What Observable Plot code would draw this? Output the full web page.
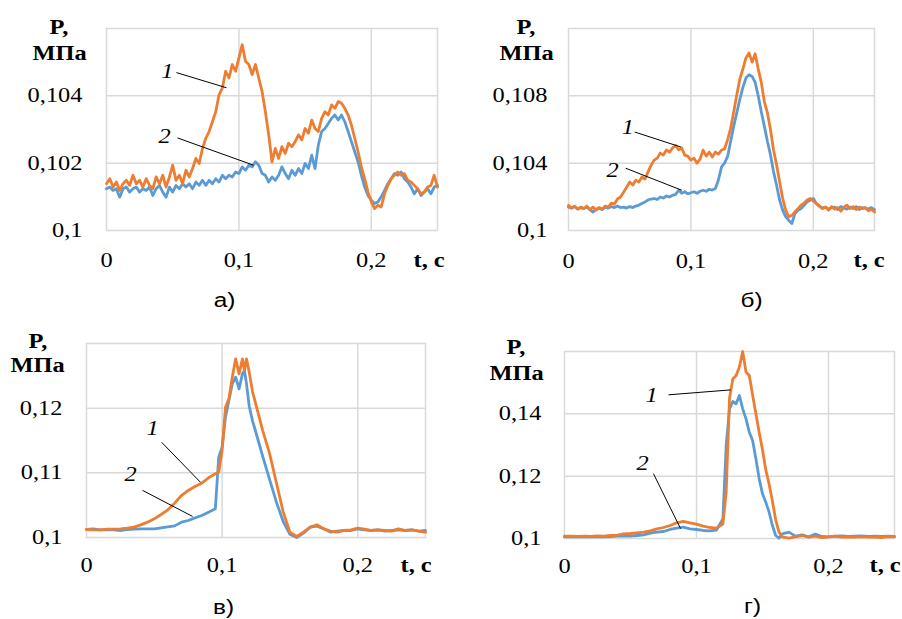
<!DOCTYPE html>
<html>
<head>
<meta charset="utf-8">
<script src="https://cdn.jsdelivr.net/npm/d3@7"></script>
<script src="https://cdn.jsdelivr.net/npm/@observablehq/plot@0.6"></script>
<style>
  html, body { margin: 0; padding: 0; background: #fff; }
  #wrap { position: relative; width: 902px; height: 619px; background: #fff; overflow: hidden; }
  .pan { position: absolute; }
</style>
</head>
<body>
<div id="wrap">
  <div class="pan" id="pa" style="left:0;top:0"></div>
  <div class="pan" id="pb" style="left:451px;top:0"></div>
  <div class="pan" id="pc" style="left:0;top:310px"></div>
  <div class="pan" id="pd" style="left:451px;top:310px"></div>
</div>
<script>
// ---------- data ----------
const xTicks = [0, 0.1, 0.2];

// Panel а)
const tA = [0,0.0025,0.005,0.0075,0.01,0.0125,0.015,0.0175,0.02,0.0225,0.025,0.0275,0.03,0.0325,0.035,0.0375,0.04,0.0425,0.045,0.0475,
            0.05,0.0525,0.055,0.0575,0.06,0.0625,0.065,0.0675,0.07,0.0725,0.075,0.0775,0.08,0.0825,0.085,0.0875,0.09,0.0925,0.095,0.0975,
            0.1,0.1025,0.105,0.1075,0.11,0.1125,0.115,0.1175,0.12,0.1225,0.125,0.1275,0.13,0.1325,0.135,0.1375,0.14,0.1425,0.145,0.1475,
            0.15,0.1525,0.155,0.1575,0.16,0.1625,0.165,0.1675,0.17,0.1725,0.175,0.1775,0.18,0.1825,0.185,0.1875,0.19,0.1925,0.195,0.1975,
            0.2,0.2025,0.205,0.2075,0.21,0.2125,0.215,0.2175,0.22,0.2225,0.225,0.2275,0.23,0.2325,0.235,0.2375,0.24,0.2425,0.245,0.2475,0.25];
const pA1 = [0.10139,0.10154,0.10129,0.10144,0.10119,0.10139,0.10149,0.10134,0.10164,0.10139,0.10149,0.10129,0.10154,0.10134,0.10124,0.10159,0.10139,0.10164,0.10129,0.10159,
             0.10194,0.10149,0.10164,0.10139,0.10179,0.10159,0.10184,0.10214,0.10199,0.10244,0.10274,0.10294,0.10323,0.10353,0.10403,0.10423,0.10473,0.10453,0.10493,0.10473,
             0.10512,0.10552,0.10503,0.10493,0.10463,0.10493,0.10453,0.10413,0.10353,0.10284,0.10204,0.10244,0.10214,0.10249,0.10229,0.10259,0.10249,0.10264,0.10284,0.10269,
             0.10303,0.10289,0.10328,0.10303,0.10294,0.10333,0.10353,0.10343,0.10373,0.10363,0.10383,0.10378,0.10363,0.10343,0.10313,0.10274,0.10234,0.10189,0.10154,0.10114,
             0.10085,0.10065,0.10075,0.10070,0.10109,0.10134,0.10154,0.10164,0.10174,0.10164,0.10169,0.10149,0.10144,0.10134,0.10124,0.10109,0.10114,0.10129,0.10134,0.10164,0.10129];
const pA2 = [0.10124,0.10129,0.10119,0.10124,0.10099,0.10124,0.10129,0.10114,0.10124,0.10129,0.10114,0.10124,0.10119,0.10129,0.10104,0.10124,0.10134,0.10114,0.10099,0.10129,
             0.10114,0.10134,0.10124,0.10139,0.10129,0.10139,0.10124,0.10144,0.10134,0.10149,0.10134,0.10149,0.10139,0.10154,0.10144,0.10164,0.10154,0.10164,0.10159,0.10174,
             0.10169,0.10189,0.10179,0.10194,0.10189,0.10204,0.10194,0.10169,0.10164,0.10144,0.10159,0.10149,0.10164,0.10189,0.10169,0.10154,0.10179,0.10164,0.10184,0.10169,
             0.10199,0.10184,0.10224,0.10184,0.10254,0.10294,0.10303,0.10318,0.10333,0.10343,0.10328,0.10343,0.10323,0.10294,0.10264,0.10234,0.10204,0.10164,0.10129,0.10104,
             0.10090,0.10080,0.10085,0.10100,0.10119,0.10139,0.10154,0.10169,0.10164,0.10174,0.10154,0.10144,0.10129,0.10109,0.10124,0.10104,0.10114,0.10124,0.10109,0.10129,0.10134];
const yTicksA = [0.1, 0.102, 0.104];

// Panel б)
const tB = tA;
const pB1 = [0.10149,0.10133,0.10145,0.10127,0.10139,0.10130,0.10145,0.10124,0.10139,0.10121,0.10136,0.10127,0.10145,0.10139,0.10163,0.10157,0.10187,0.10199,0.10227,0.10257,
             0.10288,0.10270,0.10299,0.10288,0.10318,0.10306,0.10348,0.10388,0.10418,0.10430,0.10460,0.10448,0.10478,0.10466,0.10490,0.10505,0.10480,0.10490,0.10448,0.10442,
             0.10418,0.10430,0.10400,0.10424,0.10478,0.10442,0.10466,0.10436,0.10466,0.10454,0.10478,0.10484,0.10540,0.10607,0.10706,0.10806,0.10900,0.10960,0.11025,0.11055,
             0.11000,0.11050,0.10960,0.10880,0.10766,0.10700,0.10600,0.10480,0.10390,0.10290,0.10190,0.10120,0.10081,0.10090,0.10111,0.10130,0.10151,0.10163,0.10181,0.10190,
             0.10175,0.10160,0.10145,0.10130,0.10139,0.10121,0.10142,0.10127,0.10136,0.10115,0.10139,0.10151,0.10130,0.10142,0.10124,0.10139,0.10130,0.10136,0.10118,0.10127,0.10110];
const pB2 = [0.10139,0.10133,0.10142,0.10127,0.10136,0.10130,0.10139,0.10124,0.10109,0.10127,0.10133,0.10124,0.10139,0.10133,0.10142,0.10136,0.10145,0.10136,0.10139,0.10133,
             0.10142,0.10136,0.10145,0.10151,0.10161,0.10170,0.10181,0.10187,0.10190,0.10184,0.10199,0.10193,0.10205,0.10199,0.10209,0.10215,0.10239,0.10221,0.10230,0.10218,
             0.10224,0.10230,0.10221,0.10233,0.10239,0.10233,0.10245,0.10240,0.10249,0.10300,0.10378,0.10400,0.10440,0.10530,0.10620,0.10700,0.10780,0.10850,0.10907,0.10925,
             0.10915,0.10880,0.10800,0.10705,0.10620,0.10530,0.10450,0.10350,0.10269,0.10180,0.10120,0.10081,0.10060,0.10042,0.10100,0.10120,0.10131,0.10150,0.10170,0.10180,
             0.10190,0.10160,0.10145,0.10133,0.10139,0.10127,0.10136,0.10139,0.10124,0.10142,0.10133,0.10127,0.10139,0.10130,0.10142,0.10124,0.10136,0.10133,0.10127,0.10136,0.10124];
const yTicksB = [0.1, 0.104, 0.108];

// Panel в)
const tC = [0,0.005,0.01,0.015,0.02,0.025,0.03,0.035,0.04,0.045,0.05,0.055,0.06,0.065,0.07,0.075,0.08,0.085,0.09,0.095,
            0.0975,0.1,0.1025,0.105,0.1075,0.11,0.1125,0.115,0.1165,0.118,0.12,0.1225,0.125,
            0.13,0.135,0.14,0.145,0.15,0.155,0.16,0.165,0.17,0.175,0.18,0.185,0.19,0.195,0.2,0.205,0.21,0.215,0.22,0.225,0.23,0.235,0.24,0.245,0.25];
const pC1 = [0.10124,0.10119,0.10119,0.10129,0.10129,0.10134,0.10144,0.10160,0.10196,0.10237,
             0.10289,0.10356,0.10428,0.10531,0.10649,0.10727,0.10789,0.10840,0.10923,0.10985,
             0.11010,0.11345,0.12015,0.12144,0.12479,0.12763,0.12531,0.12763,0.12582,0.12763,0.12557,0.12250,0.12050,
             0.11650,0.11300,0.10850,0.10400,0.10082,0.10015,0.10082,0.10160,0.10196,0.10134,
             0.10098,0.10082,0.10108,0.10119,0.10144,0.10129,0.10108,0.10119,0.10108,0.10098,
             0.10134,0.10108,0.10119,0.10098,0.10082];
const pC2 = [0.10124,0.10134,0.10119,0.10119,0.10119,0.10108,0.10124,0.10129,0.10134,0.10134,
             0.10134,0.10150,0.10165,0.10180,0.10237,0.10263,0.10304,0.10340,0.10392,0.10443,
             0.11242,0.11397,0.11861,0.12119,0.12376,0.12479,0.12299,0.12531,0.12582,0.12376,0.12030,0.11800,0.11620,
             0.11250,0.10900,0.10550,0.10250,0.10050,0.10000,0.10067,0.10160,0.10175,0.10134,
             0.10082,0.10098,0.10108,0.10108,0.10134,0.10119,0.10108,0.10119,0.10098,0.10108,
             0.10119,0.10108,0.10119,0.10098,0.10108];
const yTicksC = [0.1, 0.11, 0.12];

// Panel г)
const tD = [0,0.005,0.01,0.015,0.02,0.025,0.03,0.035,0.04,0.045,0.05,0.055,0.06,0.065,0.07,0.075,0.08,0.085,0.09,0.095,0.1,0.105,0.11,0.115,0.12,
            0.1225,0.125,0.1275,0.13,0.1325,0.135,0.1375,0.14,0.1425,0.145,0.1475,0.15,0.1525,0.155,0.1575,0.16,0.1625,0.165,
            0.17,0.175,0.18,0.185,0.19,0.195,0.2,0.205,0.21,0.215,0.22,0.225,0.23,0.235,0.24,0.245,0.25];
const pD1 = [0.10075,0.10075,0.10064,0.10075,0.10064,0.10086,0.10075,0.10096,0.10107,0.10150,
             0.10160,0.10182,0.10203,0.10246,0.10310,0.10353,0.10417,0.10503,0.10546,0.10503,
             0.10460,0.10396,0.10353,0.10332,0.10460,
             0.11500,0.14500,0.15120,0.15230,0.15500,0.16000,0.15340,0.15230,0.14600,0.14000,0.13400,0.12850,0.12200,0.11750,0.11200,0.10600,0.10200,0.10050,
             0.10011,0.10053,0.10096,0.10043,0.10075,0.10032,0.10053,0.10075,0.10043,0.10053,
             0.10043,0.10064,0.10043,0.10053,0.10032,0.10064,0.10053];
const pD2 = [0.10053,0.10064,0.10053,0.10064,0.10053,0.10064,0.10053,0.10064,0.10075,0.10075,
             0.10075,0.10096,0.10118,0.10171,0.10203,0.10225,0.10289,0.10332,0.10364,0.10310,
             0.10289,0.10257,0.10246,0.10267,0.10631,
             0.12984,0.14160,0.14396,0.14321,0.14588,0.14160,0.13840,0.13412,0.13144,0.12556,0.11914,0.11433,0.11166,0.10845,0.10417,0.10096,0.10011,0.10150,
             0.10203,0.10075,0.10118,0.10053,0.10139,0.10064,0.10053,0.10075,0.10086,0.10064,
             0.10075,0.10086,0.10064,0.10075,0.10064,0.10075,0.10064];
const yTicksD = [0.1, 0.12, 0.14];

// curve labels 1 / 2 with leader lines (data coordinates)
const notesA = [
  {label: "1", lx: 0.046, ly: 0.10472, x1: 0.0528, y1: 0.10469, x2: 0.0906, y2: 0.10424},
  {label: "2", lx: 0.0438, ly: 0.10278, x1: 0.0536, y1: 0.10275, x2: 0.111, y2: 0.10194}
];
const notesB = [
  {label: "1", lx: 0.0484, ly: 0.10609, x1: 0.0541, y1: 0.10585, x2: 0.0918, y2: 0.10496},
  {label: "2", lx: 0.036, ly: 0.10358, x1: 0.0467, y1: 0.1037, x2: 0.0926, y2: 0.10239}
];
const notesC = [
  {label: "1", lx: 0.0487, ly: 0.1169, x1: 0.0554, y1: 0.11473, x2: 0.0841, y2: 0.10853},
  {label: "2", lx: 0.0325, ly: 0.10977, x1: 0.0413, y1: 0.10729, x2: 0.0782, y2: 0.10326}
];
const notesD = [
  {label: "1", lx: 0.0659, ly: 0.14576, x1: 0.0788, y1: 0.1461, x2: 0.1258, y2: 0.14768},
  {label: "2", lx: 0.0591, ly: 0.124, x1: 0.0674, y1: 0.1208, x2: 0.0879, y2: 0.1032}
];

// ---------- drawing ----------
const ORANGE = "#ED7D31", BLUE = "#5B9BD5", GRID = "#d9d9d9";
const SERIF = "Liberation Serif";
const SANS = "Liberation Sans";
const fmt = d => String(d).replace(".", ",");

function makePanel(c) {
  const rows = c.t.map((t, i) => ({t, p1: c.p1[i], p2: c.p2[i]}));
  return Plot.plot({
    width: c.w, height: c.h,
    marginLeft: c.ml, marginRight: c.mr, marginTop: c.mt, marginBottom: c.mb,
    style: {fontSize: "20px", fontFamily: SERIF, color: "#000", background: "transparent", overflow: "visible"},
    x: {domain: [0, 0.25], ticks: xTicks, tickFormat: fmt, tickSize: 0, tickPadding: c.xpad, label: null},
    y: {domain: c.yDomain, ticks: c.yTicks, tickFormat: fmt, tickSize: 0, tickPadding: c.ypad, label: null},
    marks: [
      Plot.ruleX(xTicks.filter(d => d > 0), {stroke: GRID, strokeWidth: 1.5}),
      Plot.ruleY(c.yTicks.filter(d => d > c.yDomain[0]), {stroke: GRID, strokeWidth: 1.5}),
      Plot.frame({stroke: GRID, strokeWidth: 1.5}),
      Plot.line(rows, {x: "t", y: "p2", stroke: BLUE, strokeWidth: 2.8, strokeLinejoin: "round"}),
      Plot.line(rows, {x: "t", y: "p1", stroke: ORANGE, strokeWidth: 2.8, strokeLinejoin: "round"}),
      Plot.link(c.notes, {x1: "x1", y1: "y1", x2: "x2", y2: "y2", stroke: "#000", strokeWidth: 1}),
      Plot.text(c.notes, {x: "lx", y: "ly", text: "label", fontStyle: "italic", fontSize: 20, fill: "#000"}),
      Plot.text(["P,"], {frameAnchor: "top-left", textAnchor: "start", lineAnchor: "middle", dx: c.pdx, dy: c.pdy, fontWeight: "bold", fontSize: 20}),
      Plot.text(["МПа"], {frameAnchor: "top-left", textAnchor: "start", lineAnchor: "middle", dx: c.mdx, dy: c.mdy, fontWeight: "bold", fontSize: 20}),
      Plot.text(["t, с"], {frameAnchor: "bottom-right", textAnchor: "start", lineAnchor: "middle", dx: c.tdx, dy: c.tdy, fontWeight: "bold", fontSize: 20}),
      Plot.text([c.caption], {frameAnchor: "bottom-left", textAnchor: "middle", lineAnchor: "middle", dx: c.cdx, dy: c.cdy, fontSize: 20})
    ]
  });
}

// widen glyphs like the (horizontally stretched) reference, keeping each text's anchor point
function mount(id, svg, caption) {
  const host = document.getElementById(id);
  host.appendChild(svg);
  svg.querySelectorAll("text").forEach(el => {
    if (el.querySelector("tspan")) return;
    el.style.fontFamily = el.textContent === caption ? SANS : SERIF;
    const L = el.getComputedTextLength();
    if (!(L > 0)) return;
    const anchor = getComputedStyle(el).textAnchor;
    const ref = b => anchor === "end" ? b.x + b.width : anchor === "middle" ? b.x + b.width / 2 : b.x;
    const r0 = ref(el.getBBox());
    el.setAttribute("textLength", (L * 1.22).toFixed(1));
    el.setAttribute("lengthAdjust", "spacingAndGlyphs");
    const shift = r0 - ref(el.getBBox());
    if (Math.abs(shift) > 0.3) {
      el.setAttribute("transform", `translate(${shift.toFixed(1)},0) ` + (el.getAttribute("transform") || ""));
    }
  });
}

const cfgA = {t: tA, p1: pA1, p2: pA2, yDomain: [0.1, 0.106], yTicks: yTicksA, notes: notesA,
  w: 451, h: 310, ml: 106, mr: 14, mt: 28, mb: 80, xpad: 22, ypad: 24,
  pdx: -57, pdy: -1, mdx: -74, mdy: 25, tdx: -24, tdy: 30, caption: "а)", cdx: 118, cdy: 70};
const cfgB = {t: tB, p1: pB1, p2: pB2, yDomain: [0.1, 0.112], yTicks: yTicksB, notes: notesB,
  w: 451, h: 310, ml: 117, mr: 28, mt: 28, mb: 80, xpad: 23, ypad: 21,
  pdx: -52, pdy: -1, mdx: -69, mdy: 25, tdx: -21, tdy: 30, caption: "б)", cdx: 183, cdy: 70};
const cfgC = {t: tC, p1: pC1, p2: pC2, yDomain: [0.1, 0.13], yTicks: yTicksC, notes: notesC,
  w: 451, h: 309, ml: 86, mr: 26, mt: 33, mb: 82, xpad: 20, ypad: 24,
  pdx: -58, pdy: -2, mdx: -76, mdy: 22, tdx: -25, tdy: 28, caption: "в)", cdx: 137, cdy: 70};
const cfgD = {t: tD, p1: pD1, p2: pD2, yDomain: [0.1, 0.16], yTicks: yTicksD, notes: notesD,
  w: 451, h: 309, ml: 113, mr: 8, mt: 41, mb: 81, xpad: 20, ypad: 23,
  pdx: -58, pdy: -4, mdx: -75, mdy: 22, tdx: -25, tdy: 27, caption: "г)", cdx: 188, cdy: 68};

mount("pa", makePanel(cfgA), cfgA.caption);
mount("pb", makePanel(cfgB), cfgB.caption);
mount("pc", makePanel(cfgC), cfgC.caption);
mount("pd", makePanel(cfgD), cfgD.caption);
</script>
</body>
</html>
